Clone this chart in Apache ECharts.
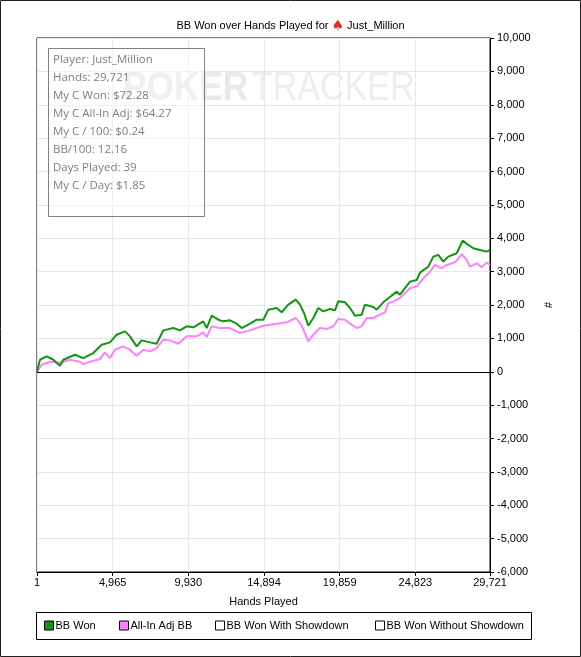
<!DOCTYPE html>
<html><head><meta charset="utf-8">
<script src="https://cdn.jsdelivr.net/npm/echarts@6/dist/echarts.min.js"></script>
<style>html,body{margin:0;padding:0;background:#fff}#c{width:581px;height:657px}</style>
</head><body><div id="c"></div>
<script>
const xTicks = [1, 4965, 9930, 14894, 19859, 24823, 29721];
const bbWonHands = [1,197,636,1069,1509,1726,2493,3038,3694,4245,4790,5229,5774,6102,6541,6869,7414,7853,8286,8943,9382,9822,10255,10911,11134,11462,11895,12223,12663,13102,13430,13975,14414,14847,15175,15726,16054,16487,16973,17255,17518,17800,18128,18456,18784,19224,19552,19768,20208,20536,20864,21304,21520,22065,22288,22720,23160,23600,23816,24472,24912,25129,25673,26001,26329,26657,26985,27536,27930,28297,28625,29065,29504,29721];
const bbWon = [0,360,460,360,180,360,510,410,560,810,880,1110,1210,1060,760,940,880,840,1240,1310,1240,1360,1330,1510,1310,1680,1560,1510,1540,1440,1310,1440,1560,1560,1860,1910,1780,2010,2160,2010,1760,1380,1610,1910,1810,1880,1840,2110,2080,1910,1680,1710,2010,1940,1860,2080,2240,2400,2310,2700,2750,2970,3150,3450,3500,3300,3450,3550,3930,3800,3700,3650,3600,3650];
const adjHands = [1,309,854,1509,2166,2822,3038,3478,4134,4462,4790,5118,5663,6102,6541,6975,7414,7853,8286,8726,9271,9822,10478,10911,11134,11462,12007,12663,13319,13975,14847,15726,16383,16993,17367,17800,18128,18568,19008,19440,19768,20208,20536,20975,21304,21632,22065,22505,22833,23049,23377,23816,24472,24912,25346,25785,26113,26553,26881,27425,27865,28193,28409,28849,29177,29504,29721];
const allInAdj = [0,210,300,270,360,300,230,300,380,580,410,660,760,660,480,660,610,710,960,940,840,1060,1060,1180,1040,1360,1310,1310,1160,1240,1380,1440,1480,1610,1380,910,1110,1310,1280,1360,1580,1560,1440,1310,1360,1610,1610,1710,1780,2050,2110,2210,2500,2560,2800,3000,3200,3100,3200,3280,3520,3350,3150,3250,3130,3270,3200];
const seriesNames = ['BB Won', 'All-In Adj BB', 'BB Won With Showdown', 'BB Won Without Showdown'];
const infoLines = ['Player: Just_Million','Hands: 29,721','My C Won: $72.28','My C All-In Adj: $64.27','My C / 100: $0.24','BB/100: 12.16','Days Played: 39','My C / Day: $1.85'];

const FONT = 'Liberation Sans';
const FS = 11;
const chart = echarts.init(document.getElementById('c'), null, {renderer: 'canvas'});
const fmt = v => v.toLocaleString('en-US');

const graphics = [
  {type:'rect', shape:{x:0.5,y:0.5,width:580,height:656}, style:{fill:'none', stroke:'#222', lineWidth:1}, z:-1},
  {type:'text', x:123, y:89, z:-1, scaleX:0.88, originX:0, style:{text:'POKER', font:'bold 40px "Liberation Sans"', fill:'#e9e9e9', verticalAlign:'middle'}},
  {type:'text', x:252, y:89, z:-1, scaleX:0.85, originX:0, style:{text:'TRACKER', font:'40px "Liberation Sans"', fill:'#eeeeee', verticalAlign:'middle'}},
  {type:'rect', shape:{x:48.5,y:48.5,width:156,height:168}, style:{fill:'rgba(255,255,255,0.35)', stroke:'#808080', lineWidth:1}, z:10},
  {type:'rect', shape:{x:36.5,y:612.5,width:495,height:27}, style:{fill:'none', stroke:'#000', lineWidth:1}, z:10}
];
infoLines.forEach((t,i)=>{
  graphics.push({type:'text', x:53, y:54 + i*18, z:11, style:{text:t, font:'11.5px "Open Sans"', fill:'#7c7c8c'}});
});

const legendLefts = [44, 119, 215, 375];
const legends = seriesNames.map((n,i)=>({
  left:legendLefts[i], top:620, padding:0,
  data:[n], icon:'rect', itemWidth:9, itemHeight:9, selectedMode:false,
  itemStyle:{borderColor:'#000', borderWidth:1},
  textStyle:{fontSize:FS, color:'#000', fontFamily:FONT, padding:[0,0,0,-3]}
}));

chart.setOption({
  animation:false,
  textStyle:{fontFamily:FONT},
  title:{
    text:'BB Won over Hands Played for {sp|♠} Just_Million',
    left:'center', top:14,
    textStyle:{fontSize:FS, fontWeight:'normal', color:'#000', fontFamily:FONT,
      rich:{sp:{fontSize:14, color:'#e0302a', fontFamily:'DejaVu Sans'}}}
  },
  grid:{left:37, right:91, top:38, bottom:85, show:true, borderColor:'#000', borderWidth:1},
  xAxis:{
    type:'value', min:1, max:29721,
    name:'Hands Played', nameLocation:'middle', nameGap:24,
    nameTextStyle:{fontSize:FS, color:'#000', fontFamily:FONT},
    axisLine:{show:true, onZero:false, lineStyle:{color:'#000'}},
    axisTick:{show:true, length:4, customValues:xTicks, lineStyle:{color:'#000'}},
    axisLabel:{customValues:xTicks, formatter:fmt, fontSize:FS, color:'#000', margin:5, fontFamily:FONT},
    splitLine:{show:true, lineStyle:{color:'#e8e8e8'}}
  },
  yAxis:{
    type:'value', position:'right', min:-6000, max:10000, interval:1000,
    name:'#', nameLocation:'middle', nameGap:50, nameRotate:-90,
    nameTextStyle:{fontSize:FS, color:'#000', fontFamily:FONT},
    axisLine:{show:true, lineStyle:{color:'#000'}},
    axisTick:{show:true, length:4, lineStyle:{color:'#000'}},
    axisLabel:{formatter:fmt, fontSize:FS, color:'#000', margin:7, fontFamily:FONT},
    splitLine:{show:true, lineStyle:{color:'#e8e8e8'}}
  },
  legend:legends,
  graphic:graphics,
  series:[
    {name:seriesNames[0], type:'line', data:bbWonHands.map((h,i)=>[h,bbWon[i]]), showSymbol:false, color:'#109610',
     lineStyle:{width:2, color:'#109610'}, z:4,
     markLine:{silent:true, symbol:'none', label:{show:false}, lineStyle:{color:'#000', type:'solid', width:1}, data:[{yAxis:0}]}},
    {name:seriesNames[1], type:'line', data:adjHands.map((h,i)=>[h,allInAdj[i]]), showSymbol:false, color:'#ff80ff',
     lineStyle:{width:2, color:'#ff80ff'}, z:3},
    {name:seriesNames[2], type:'line', data:[], color:'#fff'},
    {name:seriesNames[3], type:'line', data:[], color:'#fff'}
  ]
});
</script></body></html>
